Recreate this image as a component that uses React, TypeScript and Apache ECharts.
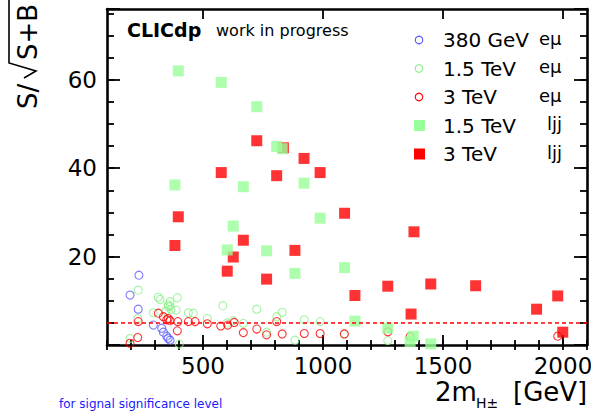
import React, { useEffect, useRef } from 'react';
import * as echarts from 'echarts';

// ---- data ----
const xMajorTicks = [500, 1000, 1500, 2000];
const yMajorLabels = [20, 40, 60];
const thresholdValue = 5;

const blueCirc380 = [
  [196, 11.3], [233, 15.8], [230, 8.1], [293, 4.5], [328, 3.8], [335, 2.9],
  [349, 2.0], [355, 1.5], [363, 1.1],
];

const greenCirc15 = [
  [230, 12.4], [196, 1.5], [314, 10.8], [321, 10.3], [355, 8.7], [367, 8.1],
  [346, 7.7], [393, 10.7], [388, 7.9], [293, 7.3], [439, 7.3], [460, 7.2],
  [518, 6.0], [583, 8.9], [228, 6.0], [401, 0.2], [724, 8.1], [807, 6.4],
  [830, 7.4], [626, 5.5], [668, 4.9], [601, 5.0], [765, 2.9], [883, 1.1],
  [922, 5.7], [988, 5.3], [1089, 2.5], [1270, 1.0], [355, 9.1], [363, 8.8],
  [363, 9.8],
];

const redCirc3 = [
  [196, 0.4], [228, 1.7], [230, 5.3], [314, 7.2], [335, 6.4], [349, 5.7],
  [355, 6.0], [363, 5.5], [395, 5.3], [393, 3.2], [439, 5.3], [467, 5.3],
  [518, 4.8], [574, 4.3], [603, 4.5], [630, 5.1], [668, 2.8], [724, 3.6],
  [765, 2.3], [807, 5.3], [830, 2.5], [922, 2.6], [988, 2.6], [1089, 2.5],
  [1270, 3.0], [1363, 1.9], [1978, 2.0],
];

const redSq3 = [
  [724, 46.2], [835, 44.6], [921, 42.2], [576, 39.0], [807, 38.3], [988, 39.0],
  [397, 29.0], [1090, 29.8], [1379, 25.6], [383, 22.5], [668, 23.7], [626, 19.9],
  [883, 21.4], [601, 16.7], [765, 14.9], [1270, 13.3], [1449, 13.8], [1133, 11.2],
  [1636, 13.4], [1890, 8.1], [1978, 11.1], [1367, 7.0], [1999, 2.9],
];

const greenSq15 = [
  [397, 62.0], [576, 59.4], [724, 53.9], [807, 44.9], [830, 44.4], [383, 36.2],
  [668, 35.8], [921, 36.6], [988, 28.7], [626, 26.9], [601, 21.5], [765, 21.3],
  [883, 16.2], [1090, 17.5], [1133, 5.4], [1270, 3.8], [1363, 0.75], [1376, 2.0],
  [1449, 0.25],
];

const legendLabels = ['380 GeV', '1.5 TeV', '3 TeV', '1.5 TeV', '3 TeV'];
const legendTags = ['eμ', 'eμ', 'eμ', 'ljj', 'ljj'];

// ---- styles ----
const FONT = 'DejaVu Sans';
const BLUE = '#5a5aff';
const GREEN_C = '#8ef08e';
const GREEN_S = '#99ff99';
const RED = '#ff0000';
const legendColors = [BLUE, GREEN_C, RED, GREEN_S, RED];
const legendKinds = ['circle', 'circle', 'circle', 'rect', 'rect'];

const X_MIN = 100;
const X_MAX = 2100;
const Y_MIN = 0;
const Y_MAX = 76;

const lineBlack = { color: '#000', width: 2.6 };
const tickStyle = { color: '#000', width: 1.8 };

function buildOption() {
  const hollow = (color: string) => ({
    color: 'rgba(0,0,0,0)',
    borderColor: color,
    borderWidth: 1.1,
  });

  const legendGraphics: any[] = [];
  legendLabels.forEach((lab, i) => {
    const cy = 40 + i * 28.5;
    if (legendKinds[i] === 'circle') {
      legendGraphics.push({
        type: 'circle',
        shape: { cx: 419, cy, r: 3.8 },
        style: { fill: 'none', stroke: legendColors[i], lineWidth: 1.1 },
      });
    } else {
      legendGraphics.push({
        type: 'rect',
        shape: { x: 414, y: cy - 5.5, width: 11, height: 11 },
        style: { fill: legendColors[i] },
      });
    }
    legendGraphics.push({
      type: 'text',
      x: 443,
      y: cy,
      style: {
        text: lab, font: `20px "${FONT}"`, fill: '#000',
        align: 'left', verticalAlign: 'middle', textAlign: 'left', textVerticalAlign: 'middle',
      },
    });
    const tag = legendTags[i];
    legendGraphics.push({
      type: 'text',
      x: tag === 'ljj' ? 547 : 539,
      y: cy - 2,
      style: {
        text: tag, font: `18px "${FONT}"`, fill: '#000',
        align: 'left', verticalAlign: 'middle', textAlign: 'left', textVerticalAlign: 'middle',
      },
    });
  });

  const txt = (text: string, x: number, y: number, font: string, extra: any = {}) => ({
    type: 'text',
    x,
    y,
    ...extra,
    style: {
      text, font, fill: '#000',
      align: 'left', verticalAlign: 'middle', textAlign: 'left', textVerticalAlign: 'middle',
      ...(extra.style || {}),
    },
  });

  return {
    animation: false,
    backgroundColor: '#fff',
    textStyle: { fontFamily: FONT },
    grid: { left: 107, right: 4, top: 9, bottom: 66, containLabel: false, outerBoundsMode: 'none' },
    xAxis: [
      {
        type: 'value', min: X_MIN, max: X_MAX, position: 'bottom',
        axisLine: { show: true, onZero: false, lineStyle: lineBlack },
        axisTick: { show: true, inside: true, length: 10, customValues: xMajorTicks, lineStyle: tickStyle },
        axisLabel: {
          show: true, customValues: xMajorTicks, margin: 9, fontSize: 23, fontFamily: FONT, color: '#000',
          formatter: (v: number) => String(v),
        },
        splitLine: { show: false },
      },
      {
        type: 'value', min: X_MIN, max: X_MAX, interval: 100, position: 'bottom',
        axisLine: { show: false },
        axisTick: { show: true, inside: true, length: 5, lineStyle: tickStyle },
        axisLabel: { show: false },
        splitLine: { show: false },
      },
      {
        type: 'value', min: X_MIN, max: X_MAX, position: 'top',
        axisLine: { show: true, onZero: false, lineStyle: lineBlack },
        axisTick: { show: true, inside: true, length: 10, customValues: xMajorTicks, lineStyle: tickStyle },
        axisLabel: { show: false },
        splitLine: { show: false },
      },
      {
        type: 'value', min: X_MIN, max: X_MAX, interval: 100, position: 'top',
        axisLine: { show: false },
        axisTick: { show: true, inside: true, length: 5, lineStyle: tickStyle },
        axisLabel: { show: false },
        splitLine: { show: false },
      },
    ],
    yAxis: [
      {
        type: 'value', min: Y_MIN, max: Y_MAX, interval: 20, position: 'left',
        axisLine: { show: true, onZero: false, lineStyle: lineBlack },
        axisTick: { show: true, inside: true, length: 13, lineStyle: tickStyle },
        axisLabel: {
          show: true, margin: 10, fontSize: 23, fontFamily: FONT, color: '#000',
          formatter: (v: number) => (yMajorLabels.indexOf(v) >= 0 ? String(v) : ''),
        },
        splitLine: { show: false },
      },
      {
        type: 'value', min: Y_MIN, max: Y_MAX, interval: 5, position: 'left',
        axisLine: { show: false },
        axisTick: { show: true, inside: true, length: 7, lineStyle: tickStyle },
        axisLabel: { show: false },
        splitLine: { show: false },
      },
      {
        type: 'value', min: Y_MIN, max: Y_MAX, interval: 20, position: 'right',
        axisLine: { show: true, onZero: false, lineStyle: lineBlack },
        axisTick: { show: true, inside: true, length: 13, lineStyle: tickStyle },
        axisLabel: { show: false },
        splitLine: { show: false },
      },
      {
        type: 'value', min: Y_MIN, max: Y_MAX, interval: 5, position: 'right',
        axisLine: { show: false },
        axisTick: { show: true, inside: true, length: 7, lineStyle: tickStyle },
        axisLabel: { show: false },
        splitLine: { show: false },
      },
    ],
    series: [
      {
        type: 'scatter', name: '380 GeV eμ', data: blueCirc380, symbol: 'circle', symbolSize: 8,
        itemStyle: hollow(BLUE), z: 2,
      },
      {
        type: 'scatter', name: '1.5 TeV eμ', data: greenCirc15, symbol: 'circle', symbolSize: 8,
        itemStyle: hollow(GREEN_C), z: 2,
      },
      {
        type: 'scatter', name: '3 TeV eμ', data: redCirc3, symbol: 'circle', symbolSize: 8,
        itemStyle: hollow(RED), z: 2,
        markLine: {
          silent: true, symbol: ['none', 'none'], label: { show: false },
          lineStyle: { color: RED, type: [4, 3], width: 1.5 },
          data: [{ yAxis: thresholdValue }],
        },
      },
      {
        type: 'scatter', name: '3 TeV ljj', data: redSq3, symbol: 'rect', symbolSize: 11,
        itemStyle: { color: RED }, z: 3,
      },
      {
        type: 'scatter', name: '1.5 TeV ljj', data: greenSq15, symbol: 'rect', symbolSize: 11,
        itemStyle: { color: GREEN_S }, z: 4,
      },
    ],
    graphic: [
      txt('CLICdp', 127, 29.5, `bold 19px "${FONT}"`),
      txt('work in progress', 216, 30, `16px "${FONT}"`),
      ...legendGraphics,
      // y-axis title pieces (rotated, read bottom to top)
      txt('S/', 28, 109, `26px "${FONT}"`, { rotation: Math.PI / 2 }),
      {
        type: 'polyline',
        shape: { points: [[24, 78], [36, 71], [9, 63], [9, 0]] },
        style: { stroke: '#000', lineWidth: 1.6, fill: 'none' },
      },
      txt('S+B', 28, 60, `26px "${FONT}"`, { rotation: Math.PI / 2 }),
      // x-axis title
      txt('2m', 435, 392, `26px "${FONT}"`),
      txt('H±', 476, 403, `14px "${FONT}"`),
      txt('[GeV]', 513, 392, `26px "${FONT}"`),
      // caption at the bottom edge of the picture
      {
        type: 'text', x: 59, y: 410,
        style: {
          text: 'for signal significance level', font: `12px "${FONT}"`, fill: '#1a1aff',
          align: 'left', verticalAlign: 'bottom', textAlign: 'left', textVerticalAlign: 'bottom',
        },
      },
    ],
  };
}

export default function App() {
  const ref = useRef<HTMLDivElement>(null);
  useEffect(() => {
    if (!ref.current) return;
    const chart = echarts.init(ref.current, null, { renderer: 'svg' });
    chart.setOption(buildOption() as any);
    return () => chart.dispose();
  }, []);
  return (
    <div
      ref={ref}
      style={{ position: 'fixed', left: 0, top: 0, width: 591, height: 411, background: '#fff' }}
    />
  );
}
